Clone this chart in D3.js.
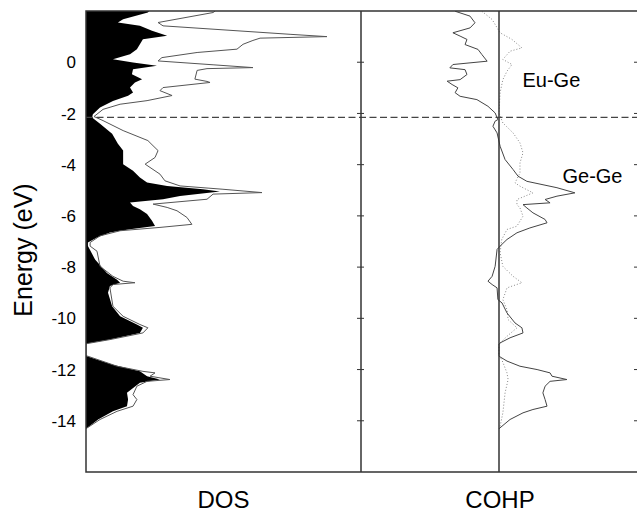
<!DOCTYPE html>
<html>
<head>
<meta charset="utf-8">
<script src="https://cdn.jsdelivr.net/npm/d3@7"></script>
<style>
  body { margin: 0; background: #fff; }
  svg text { font-family: "Liberation Sans", Arial, Helvetica, sans-serif; fill: #000; }
</style>
</head>
<body>
<svg id="chart" width="637" height="513"></svg>
<script>
// energy ticks (eV)
const energyTicks = [0, -2, -4, -6, -8, -10, -12, -14];
const fermiLevel = -2.15;

// total DOS: [energy, states] (outline)
const dosTotal = [
  [2.0, 4.7], [1.94, 4.62], [1.55, 2.62], [1.42, 2.8], [1.09, 7.42], [1.0, 8.76], [0.94, 6.33],
  [0.85, 6.07], [0.7, 5.71], [0.51, 5.49], [0.38, 4.04], [0.18, 2.76], [0.05, 2.62],
  [-0.1, 4.62], [-0.21, 6.07], [-0.25, 4.4], [-0.32, 4.04], [-0.66, 3.96], [-0.75, 4.4],
  [-0.79, 4.51], [-0.99, 2.8], [-1.11, 2.69], [-1.3, 3.13], [-1.5, 2.22], [-1.64, 1.24],
  [-1.84, 0.62], [-2.12, 0.29], [-2.28, 0.62], [-2.67, 1.35], [-3.06, 2.25], [-3.22, 2.4],
  [-3.45, 2.62], [-3.72, 2.51], [-3.98, 2.15], [-4.37, 2.69], [-4.63, 2.87], [-4.83, 3.42],
  [-4.96, 4.98], [-5.09, 6.4], [-5.15, 4.62], [-5.35, 4.4], [-5.54, 2.44], [-5.67, 2.95],
  [-5.8, 3.31], [-6.06, 3.67], [-6.33, 3.85], [-6.45, 2.69], [-6.58, 1.24], [-6.78, 0.51],
  [-7.04, 0.15], [-7.18, 0.15], [-7.38, 0.4], [-7.97, 0.51], [-8.36, 0.98], [-8.55, 1.35],
  [-8.61, 1.78], [-8.68, 0.98], [-8.81, 0.87], [-9.53, 0.98], [-9.92, 1.35], [-10.24, 1.96],
  [-10.37, 2.25], [-10.57, 2.07], [-10.83, 0.87], [-10.98, 0.07], [-11.0, 0], [-11.46, 0],
  [-11.48, 0.07], [-11.87, 1.13], [-12.07, 2.07], [-12.13, 2.51], [-12.26, 2.33], [-12.39, 3.05],
  [-12.46, 2.22], [-12.65, 1.85], [-12.98, 1.71], [-13.17, 1.85], [-13.43, 1.71], [-13.63, 1.13],
  [-13.95, 0.51], [-14.28, 0.04], [-14.3, 0]
];

// partial DOS (filled black): [energy, states]
const dosPartial = [
  [2.0, 2.3], [1.94, 2.25], [1.68, 1.35], [1.55, 1.16], [1.42, 1.96], [1.23, 2.4], [1.03, 2.95],
  [0.9, 2.07], [0.7, 1.96], [0.51, 1.85], [0.31, 1.6], [0.12, 0.98], [-0.01, 1.71], [-0.14, 2.58],
  [-0.27, 1.71], [-0.47, 1.67], [-0.66, 2.04], [-0.79, 1.78], [-0.99, 1.6], [-1.18, 1.71],
  [-1.31, 1.53], [-1.51, 0.98], [-1.77, 0.51], [-2.03, 0.25], [-2.16, 0.22], [-2.4, 0.51],
  [-2.79, 0.95], [-3.18, 1.16], [-3.45, 1.35], [-3.72, 1.35], [-3.98, 1.35], [-4.24, 1.71],
  [-4.5, 1.96], [-4.7, 2.22], [-4.83, 2.95], [-4.96, 4.25], [-5.05, 4.87], [-5.22, 3.42],
  [-5.35, 2.8], [-5.48, 1.6], [-5.61, 1.71], [-5.74, 1.96], [-5.93, 2.22], [-6.19, 2.4],
  [-6.39, 2.51], [-6.52, 1.6], [-6.65, 0.87], [-6.84, 0.4], [-7.04, 0.07], [-7.18, 0.07],
  [-7.7, 0.33], [-8.23, 0.76], [-8.49, 1.13], [-8.61, 1.24], [-8.74, 0.87], [-9.0, 0.8],
  [-9.53, 0.95], [-9.92, 1.24], [-10.24, 1.85], [-10.37, 2.07], [-10.57, 1.96], [-10.83, 0.87],
  [-10.98, 0.04], [-11.0, 0], [-11.46, 0], [-11.48, 0.04], [-11.81, 0.98], [-12.07, 1.96],
  [-12.26, 2.22], [-12.39, 2.69], [-12.52, 1.96], [-12.91, 1.49], [-13.17, 1.53], [-13.43, 1.49],
  [-13.63, 0.98], [-13.95, 0.44], [-14.28, 0.04], [-14.3, 0]
];

// -COHP Ge-Ge (solid): [energy, value]
const cohpGeGe = [
  [1.99, -1.59], [1.8, -1.05], [1.54, -0.87], [1.34, -1.05], [1.15, -1.67], [1.02, -1.41],
  [0.89, -1.16], [0.69, -1.23], [0.5, -0.76], [0.3, -0.62], [0.04, -0.43], [-0.09, -1.67],
  [-0.22, -1.78], [-0.29, -1.23], [-0.48, -1.16], [-0.68, -1.41], [-0.74, -1.88], [-0.87, -1.7],
  [-1.0, -1.49], [-1.19, -1.59], [-1.33, -1.41], [-1.46, -0.8], [-1.72, -0.4], [-1.98, -0.14],
  [-2.24, -0.04], [-2.3, -0.14], [-2.5, -0.22], [-2.76, -0.07], [-3.28, 0.04], [-3.8, 0.22],
  [-4.19, 0.51], [-4.45, 0.69], [-4.65, 1.01], [-4.9, 2.1], [-5.1, 2.75], [-5.23, 2.1],
  [-5.36, 1.67], [-5.49, 1.85], [-5.56, 0.87], [-5.69, 1.01], [-5.88, 1.23], [-6.14, 1.67],
  [-6.27, 1.74], [-6.47, 1.12], [-6.66, 0.65], [-6.92, 0.29], [-7.18, 0.04], [-7.31, -0.07],
  [-7.97, -0.14], [-8.36, -0.25], [-8.55, -0.4], [-8.68, -0.25], [-8.81, -0.07], [-9.27, -0.04],
  [-9.4, 0.11], [-9.79, 0.29], [-10.18, 0.58], [-10.37, 0.83], [-10.57, 0.87], [-10.76, 0.4],
  [-10.96, 0.04], [-11.02, 0], [-11.46, 0], [-11.48, 0], [-11.67, 0.29], [-11.87, 0.76],
  [-12.0, 1.38], [-12.13, 1.85], [-12.26, 1.92], [-12.39, 2.46], [-12.46, 1.85], [-12.65, 1.67],
  [-12.91, 1.59], [-13.17, 1.67], [-13.43, 1.74], [-13.56, 1.23], [-13.69, 0.87], [-13.95, 0.4],
  [-14.21, 0.11], [-14.31, 0]
];

// -COHP Eu-Ge (dotted): [energy, value]
const cohpEuGe = [
  [1.99, -0.62], [1.67, -0.25], [1.15, 0.04], [0.89, 0.47], [0.56, 0.83], [0.43, 0.4],
  [0.11, 0.14], [-0.09, 0.47], [-0.35, 0.29], [-0.68, 0.14], [-1.19, 0.04], [-1.98, 0],
  [-2.37, 0.14], [-2.76, 0.51], [-3.15, 0.76], [-3.54, 0.87], [-3.93, 0.76], [-4.32, 0.76],
  [-4.71, 0.58], [-4.84, 0.76], [-5.1, 1.23], [-5.36, 0.65], [-5.56, 0.65], [-5.69, 0.76],
  [-6.01, 0.87], [-6.4, 0.65], [-6.53, 0.29], [-6.92, 0.1], [-7.43, 0.04], [-7.97, 0.14],
  [-8.36, 0.51], [-8.61, 0.83], [-8.81, 0.29], [-9.27, 0.14], [-9.66, 0.29], [-10.05, 0.33],
  [-10.37, 0.65], [-10.7, 0.29], [-10.96, 0.04], [-11.0, 0], [-11.46, 0], [-11.61, 0.1],
  [-12.13, 0.29], [-12.39, 0.33], [-12.91, 0.22], [-13.69, 0.14], [-14.21, 0.04], [-14.3, 0]
];

const panelTitles = ["DOS", "COHP"];
const bondLabels = [
  { name: "Eu-Ge", e: -0.95, v: 0.85 },
  { name: "Ge-Ge", e: -4.7, v: 2.3 }
];

const svg = d3.select("#chart");
const plotTop = 11, plotBottom = 472, plotLeft = 86, plotMid = 361, plotRight = 637;

const y = d3.scaleLinear().domain([2, -16]).range([plotTop, plotBottom]);
const xDos = d3.scaleLinear().domain([0, 10]).range([plotLeft, plotMid]);
const xCohp = d3.scaleLinear().domain([-5, 5]).range([plotMid, plotRight]);

svg.append("defs").append("clipPath").attr("id", "plotClip")
  .append("rect").attr("x", plotLeft).attr("y", plotTop)
  .attr("width", plotRight - plotLeft + 4).attr("height", plotBottom - plotTop);

const plot = svg.append("g").attr("clip-path", "url(#plotClip)");

// DOS: partial filled black, total as outline
plot.append("path")
  .datum(dosPartial)
  .attr("d", d3.area().y(d => y(d[0])).x0(xDos(0)).x1(d => xDos(d[1])))
  .attr("fill", "#000");

plot.append("path")
  .datum(dosTotal)
  .attr("d", d3.line().y(d => y(d[0])).x(d => xDos(d[1])))
  .attr("fill", "none")
  .attr("stroke", "#555")
  .attr("stroke-width", 1);

// COHP curves
plot.append("path")
  .datum(cohpEuGe)
  .attr("d", d3.line().y(d => y(d[0])).x(d => xCohp(d[1])))
  .attr("fill", "none")
  .attr("stroke", "#888")
  .attr("stroke-width", 1)
  .attr("stroke-dasharray", "1,2");

plot.append("path")
  .datum(cohpGeGe)
  .attr("d", d3.line().y(d => y(d[0])).x(d => xCohp(d[1])))
  .attr("fill", "none")
  .attr("stroke", "#444")
  .attr("stroke-width", 1);

// zero line of COHP
svg.append("line")
  .attr("x1", xCohp(0)).attr("x2", xCohp(0))
  .attr("y1", plotTop).attr("y2", plotBottom)
  .attr("stroke", "#333").attr("stroke-width", 1.5);

// Fermi level
svg.append("line")
  .attr("x1", plotLeft).attr("x2", plotRight)
  .attr("y1", y(fermiLevel)).attr("y2", y(fermiLevel))
  .attr("stroke", "#444").attr("stroke-width", 1.2)
  .attr("stroke-dasharray", "7,3.5");

// frame
const frame = svg.append("g").attr("stroke", "#333").attr("stroke-width", 1.5).attr("fill", "none");
frame.append("path").attr("d", `M${plotRight + 3},${plotTop}H${plotLeft}V${plotBottom}H${plotRight + 3}`);
frame.append("line").attr("x1", plotMid).attr("x2", plotMid).attr("y1", plotTop).attr("y2", plotBottom);

// ticks (inward)
const ticks = svg.append("g").attr("stroke", "#333").attr("stroke-width", 1);
energyTicks.forEach(e => {
  const ty = y(e);
  ticks.append("line").attr("x1", plotMid - 4).attr("x2", plotMid + 3).attr("y1", ty).attr("y2", ty);
  ticks.append("line").attr("x1", plotRight - 3).attr("x2", plotRight).attr("y1", ty).attr("y2", ty);
});

// tick labels
svg.append("g").selectAll("text")
  .data(energyTicks)
  .join("text")
  .attr("x", 76)
  .attr("y", d => y(d))
  .attr("dy", "0.36em")
  .attr("text-anchor", "end")
  .attr("font-size", 17)
  .text(d => d === 0 ? "0" : "-" + Math.abs(d));

// axis title
svg.append("text")
  .attr("transform", "translate(32,250) rotate(-90)")
  .attr("text-anchor", "middle")
  .attr("font-size", 25)
  .text("Energy (eV)");

// panel titles
svg.append("text")
  .attr("x", (plotLeft + plotMid) / 2).attr("y", 508)
  .attr("text-anchor", "middle").attr("font-size", 24)
  .text(panelTitles[0]);
svg.append("text")
  .attr("x", xCohp(0) + 1).attr("y", 508)
  .attr("text-anchor", "middle").attr("font-size", 24)
  .text(panelTitles[1]);

// bond labels
svg.append("g").selectAll("text")
  .data(bondLabels)
  .join("text")
  .attr("x", d => xCohp(d.v))
  .attr("y", d => y(d.e))
  .attr("font-size", 20)
  .text(d => d.name);
</script>
</body>
</html>
